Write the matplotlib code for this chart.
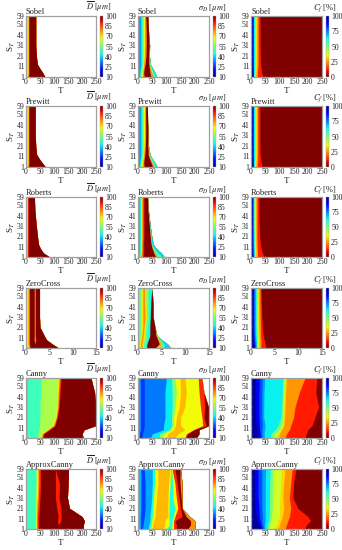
import numpy as np
import matplotlib
matplotlib.use("Agg")
import matplotlib.pyplot as plt
from matplotlib.cm import ScalarMappable
from matplotlib.colors import Normalize

plt.rcParams['font.family'] = ['Liberation Serif', 'DejaVu Serif']
plt.rcParams['mathtext.fontset'] = 'stix'

# rows of S_T at which the band edges were read
S_ROWS = [1, 5, 9, 13, 21, 31, 45, 59]
S_TICKS = [1, 11, 21, 31, 41, 51, 59]
T_TICKS = [0, 50, 100, 150, 200, 250]
ZC_TICKS = [0, 5, 10, 15]
D_TICKS = [10, 25, 40, 55, 70, 85, 100]
CF_TICKS = [0, 25, 50, 75, 100]
NAMES = ["Sobel", "Prewitt", "Roberts", "ZeroCross", "Canny", "ApproxCanny"]

# each band: value, and per S row the T where it starts; last column is where the data ends
sobel_d_vals = [58, 66, 78, 89, 100]
sobel_d = [[0, 3, 6, 8, 10, 68], [0, 4, 7, 9, 11, 60], [0, 4, 7, 9, 11, 50], [0, 4, 7, 9, 11, 41],
           [0, 4, 7, 9, 11, 37], [0, 4, 7, 9, 11, 35], [0, 4, 7, 9, 11, 35], [0, 4, 7, 9, 11, 35]]
prewitt_d_vals = [58, 66, 78, 89, 100]
prewitt_d = [[0, 3, 6, 8, 10, 70], [0, 4, 7, 9, 11, 58], [0, 4, 7, 9, 11, 47], [0, 4, 7, 9, 11, 38],
             [0, 4, 7, 9, 11, 35], [0, 4, 7, 9, 11, 33], [0, 4, 7, 9, 11, 33], [0, 4, 7, 9, 11, 33]]
roberts_d_vals = [62, 70, 80, 89, 100]
roberts_d = [[0, 2, 4, 6, 8, 85], [0, 2, 4, 6, 8, 62], [0, 2, 4, 6, 8, 52], [0, 2, 4, 6, 8, 45],
             [0, 3, 5, 6, 8, 41], [0, 3, 5, 6, 8, 37], [0, 3, 5, 6, 8, 32], [0, 3, 5, 6, 8, 30]]
zerocross_d_vals = [68, 78, 100, 80, 100]
zerocross_d = [[0, 0.5, 0.9, 2.0, 2.0, 7.0], [0, 0.4, 0.7, 2.0, 2.0, 5.6], [0, 0.4, 0.7, 1.7, 2.1, 4.4],
               [0, 0.4, 0.7, 1.75, 2.0, 3.9], [0, 0.4, 0.7, 1.75, 2.0, 3.0], [0, 0.4, 0.7, 1.75, 2.0, 2.9],
               [0, 0.4, 0.7, 1.75, 2.0, 2.9], [0, 0.4, 0.7, 1.75, 2.0, 2.9]]
canny_d_vals = [43, 48, 60, 70, 80, 89, 100]
canny_d = [[0, 5, 42, 52, 55, 58, 62, 205], [0, 5, 42, 56, 58, 60, 64, 200], [0, 5, 46, 75, 78, 82, 85, 208],
           [0, 5, 48, 95, 98, 101, 104, 250], [0, 5, 50, 105, 108, 110, 112, 248], [0, 5, 50, 110, 113, 116, 118, 250],
           [0, 5, 52, 112, 115, 118, 122, 245], [0, 5, 55, 115, 118, 122, 125, 232]]
approx_d_vals = [48, 58, 68, 78, 89, 100, 89, 100]
approx_d = [[0, 33, 36, 38, 40, 45, 120, 120, 205], [0, 33, 36, 38, 40, 45, 115, 115, 205],
            [0, 33, 36, 38, 40, 45, 112, 125, 208], [0, 33, 36, 38, 40, 46, 115, 125, 200],
            [0, 33, 36, 38, 42, 48, 110, 125, 155], [0, 33, 36, 40, 44, 50, 105, 118, 148],
            [0, 35, 38, 42, 46, 52, 105, 120, 150], [0, 35, 38, 42, 46, 52, 105, 105, 152]]

sobel_s_vals = [36, 44, 55, 68, 78, 100, 78, 55, 42]
sobel_s = [[0, 5, 8, 11, 15, 22, 45, 55, 60, 66], [0, 6, 9, 13, 16, 20, 42, 48, 53, 60],
           [0, 8, 12, 15, 18, 22, 40, 44, 48, 52], [0, 10, 14, 18, 20, 25, 38, 40, 42, 44],
           [0, 10, 14, 19, 22, 28, 38, 39, 40, 40], [0, 10, 14, 19, 23, 29, 40, 40, 41, 41],
           [0, 10, 14, 19, 23, 29, 37, 37, 37, 37], [0, 10, 14, 19, 23, 27, 35, 35, 35, 35]]
prewitt_s_vals = [36, 44, 55, 68, 78, 100, 78, 55, 42]
prewitt_s = [[0, 5, 8, 11, 15, 22, 52, 58, 62, 68], [0, 6, 9, 13, 16, 20, 46, 50, 54, 60],
             [0, 8, 12, 15, 18, 22, 40, 43, 46, 50], [0, 10, 14, 18, 20, 24, 36, 38, 40, 42],
             [0, 10, 14, 19, 22, 26, 35, 36, 37, 37], [0, 10, 14, 19, 23, 27, 36, 36, 37, 37],
             [0, 10, 14, 19, 23, 27, 34, 34, 34, 34], [0, 10, 14, 19, 23, 27, 33, 33, 33, 33]]
roberts_s_vals = [36, 44, 68, 78, 89, 100, 78, 50, 40]
roberts_s = [[0, 3, 7, 10, 14, 20, 62, 68, 85, 92], [0, 3, 8, 11, 15, 20, 55, 60, 70, 82],
             [0, 4, 9, 12, 16, 20, 50, 52, 58, 65], [0, 4, 9, 12, 16, 20, 46, 48, 50, 54],
             [0, 4, 10, 13, 17, 21, 43, 44, 46, 48], [0, 4, 10, 13, 17, 21, 40, 41, 42, 43],
             [0, 4, 10, 13, 17, 21, 36, 36, 37, 37], [0, 4, 10, 13, 17, 21, 33, 33, 34, 34]]
zerocross_s_vals = [44, 52, 70, 78, 70, 52, 44, 100, 75, 50, 40]
zerocross_s = [[0, .2, .4, .7, 1.0, 1.2, 1.5, 1.8, 3.6, 4.5, 5.5, 7.0], [0, .1, .3, .5, .8, 1.1, 1.5, 1.9, 4.5, 5.0, 5.5, 6.2],
               [0, .1, .4, .7, 1.0, 1.3, 1.8, 2.2, 4.2, 4.5, 4.8, 5.0], [0, .1, .5, .8, 1.1, 1.4, 1.8, 2.5, 3.8, 3.9, 4.0, 4.0],
               [0, .1, .6, 1.0, 1.3, 1.6, 2.0, 2.5, 3.6, 3.6, 3.6, 3.6], [0, .1, .6, 1.0, 1.5, 1.8, 2.2, 2.6, 3.2, 3.2, 3.2, 3.2],
               [0, .1, .6, 1.0, 1.4, 1.7, 2.2, 2.7, 3.2, 3.2, 3.2, 3.2], [0, .1, .6, 1.0, 1.4, 1.7, 2.2, 2.9, 2.9, 2.9, 2.9, 2.9]]
canny_s_vals = [36, 26, 32, 42, 55, 68, 74, 68, 88, 100]
canny_s = [[0, 5, 15, 45, 75, 85, 100, 130, 165, 168, 205], [0, 5, 15, 50, 75, 90, 105, 140, 170, 175, 215],
           [0, 8, 20, 90, 110, 115, 125, 165, 195, 198, 215], [0, 8, 22, 90, 118, 125, 132, 150, 228, 240, 250],
           [0, 8, 22, 95, 118, 125, 135, 150, 225, 232, 250], [0, 8, 22, 95, 120, 130, 145, 165, 220, 235, 248],
           [0, 8, 22, 95, 120, 135, 150, 170, 215, 232, 232], [0, 8, 22, 100, 118, 130, 148, 165, 212, 225, 225]]
approx_s_vals = [38, 27, 36, 45, 68, 74, 68, 45, 68, 88, 100, 78]
approx_s = [[0, 8, 15, 35, 42, 50, 88, 100, 115, 125, 135, 175, 200], [0, 8, 18, 38, 46, 52, 95, 110, 120, 125, 135, 185, 202],
            [0, 8, 20, 42, 48, 55, 95, 110, 120, 125, 130, 185, 200], [0, 8, 22, 42, 50, 60, 105, 108, 125, 130, 155, 170, 182],
            [0, 10, 25, 45, 52, 62, 105, 110, 130, 140, 150, 155, 155], [0, 10, 25, 48, 55, 65, 105, 110, 122, 135, 145, 152, 155],
            [0, 10, 25, 50, 58, 70, 108, 113, 122, 130, 138, 148, 155], [0, 10, 22, 50, 58, 70, 112, 115, 118, 120, 130, 148, 150]]

cf_vals = [98, 90, 80, 72, 64, 50, 40, 32, 25, 12, 0]
sobel_c = [[0, 6, 8, 9, 11, 12, 14, 15, 17, 22, 42, 250], [0, 5, 7, 9, 11, 12, 14, 16, 18, 23, 38, 250],
           [0, 4, 7, 9, 11, 13, 15, 17, 19, 24, 36, 250], [0, 4, 6, 9, 11, 13, 15, 17, 20, 25, 34, 250],
           [0, 3, 6, 9, 11, 13, 15, 17, 20, 25, 33, 250], [0, 3, 6, 9, 11, 13, 15, 17, 20, 25, 32, 250],
           [0, 3, 6, 9, 11, 13, 15, 17, 20, 25, 32, 250], [0, 3, 6, 9, 11, 13, 15, 17, 20, 25, 32, 250]]
prewitt_c = [[0, 6, 8, 9, 11, 12, 14, 15, 17, 22, 40, 250], [0, 5, 7, 9, 11, 12, 14, 16, 18, 23, 36, 250],
             [0, 4, 7, 9, 11, 13, 15, 17, 19, 24, 34, 250], [0, 4, 6, 9, 11, 13, 15, 17, 20, 24, 32, 250],
             [0, 3, 6, 9, 11, 13, 15, 17, 20, 24, 31, 250], [0, 3, 6, 9, 11, 13, 15, 17, 20, 24, 31, 250],
             [0, 3, 6, 9, 11, 13, 15, 17, 20, 24, 31, 250], [0, 3, 6, 9, 11, 13, 15, 17, 20, 24, 31, 250]]
roberts_c = [[0, 5, 7, 9, 10, 12, 14, 16, 18, 23, 45, 250], [0, 4, 6, 8, 10, 12, 14, 16, 18, 23, 40, 250],
             [0, 4, 6, 8, 10, 11, 13, 15, 18, 22, 36, 250], [0, 3, 5, 8, 9, 11, 13, 15, 17, 22, 33, 250],
             [0, 3, 5, 7, 9, 11, 13, 15, 17, 21, 31, 250], [0, 3, 5, 7, 9, 10, 12, 14, 17, 21, 29, 250],
             [0, 3, 5, 7, 9, 10, 12, 14, 17, 21, 28, 250], [0, 3, 5, 7, 9, 10, 12, 14, 17, 21, 28, 250]]
zerocross_c = [[0, .6, .8, .95, 1.1, 1.2, 1.35, 1.5, 1.7, 2.1, 3.2, 15], [0, .5, .7, .9, 1.1, 1.2, 1.4, 1.55, 1.75, 2.1, 3.0, 15],
               [0, .4, .6, .8, 1.0, 1.2, 1.4, 1.55, 1.75, 2.1, 2.8, 15], [0, .35, .55, .75, .95, 1.15, 1.35, 1.5, 1.7, 2.0, 2.6, 15],
               [0, .3, .5, .7, .9, 1.1, 1.3, 1.45, 1.65, 2.0, 2.4, 15], [0, .3, .5, .7, .9, 1.1, 1.3, 1.45, 1.6, 1.95, 2.3, 15],
               [0, .3, .5, .7, .9, 1.1, 1.3, 1.45, 1.6, 1.9, 2.2, 15], [0, .3, .5, .7, .9, 1.1, 1.3, 1.45, 1.6, 1.9, 2.1, 15]]
canny_c = [[0, 25, 34, 40, 48, 68, 80, 88, 98, 120, 190, 250], [0, 22, 32, 38, 46, 70, 85, 92, 100, 125, 195, 250],
           [0, 20, 30, 38, 48, 85, 100, 104, 108, 135, 200, 250], [0, 18, 30, 40, 50, 95, 108, 112, 115, 140, 215, 250],
           [0, 15, 28, 38, 45, 105, 112, 115, 118, 150, 225, 250], [0, 14, 28, 38, 45, 108, 113, 116, 120, 155, 238, 250],
           [0, 14, 28, 38, 46, 110, 115, 118, 122, 170, 228, 250], [0, 15, 30, 40, 48, 112, 117, 121, 125, 190, 232, 250]]
approx_c = [[0, 35, 40, 45, 50, 56, 62, 80, 95, 120, 190, 250], [0, 28, 35, 42, 48, 58, 66, 90, 100, 125, 195, 250],
            [0, 22, 32, 40, 50, 62, 70, 95, 105, 130, 210, 250], [0, 18, 30, 40, 50, 64, 72, 100, 110, 135, 200, 250],
            [0, 15, 28, 38, 50, 65, 75, 100, 115, 140, 165, 250], [0, 12, 25, 38, 50, 65, 75, 102, 112, 135, 148, 250],
            [0, 12, 25, 38, 50, 66, 76, 105, 115, 140, 150, 250], [0, 12, 25, 38, 52, 68, 78, 108, 120, 145, 158, 250]]

panels = [
    [(sobel_d_vals, sobel_d), (sobel_s_vals, sobel_s), (cf_vals, sobel_c)],
    [(prewitt_d_vals, prewitt_d), (prewitt_s_vals, prewitt_s), (cf_vals, prewitt_c)],
    [(roberts_d_vals, roberts_d), (roberts_s_vals, roberts_s), (cf_vals, roberts_c)],
    [(zerocross_d_vals, zerocross_d), (zerocross_s_vals, zerocross_s), (cf_vals, zerocross_c)],
    [(canny_d_vals, canny_d), (canny_s_vals, canny_s), (cf_vals, canny_c)],
    [(approx_d_vals, approx_d), (approx_s_vals, approx_s), (cf_vals, approx_c)],
]

# pixel layout of the reference
W, H = 342, 550
col_x = [(26, 96, 100, 103), (138, 209, 212.5, 216), (251, 322, 325.5, 329)]
row_y = [(16, 77), (106, 167), (197, 257), (288, 348), (378, 438), (469, 529)]
label_right = [112, 226, 337]
col_label = [r"$\overline{D}$ [$\mu m$]", r"$\sigma_D$ [$\mu m$]", r"$C_f$ [%]"]
GRAY = "#a0a0a0"
TXT = "#222222"
FS = 5.6

norm_d = Normalize(10, 100)
norm_c = Normalize(0, 100)


def box(x0, x1, y0, y1):
    return [x0 / W, 1 - y1 / H, (x1 - x0) / W, (y1 - y0) / H]


fig = plt.figure(figsize=(W / 100, H / 100), dpi=100)

for r, (y0, y1) in enumerate(row_y):
    xticks = ZC_TICKS if NAMES[r] == "ZeroCross" else T_TICKS
    for c, (x0, x1, cx0, cx1) in enumerate(col_x):
        ax = fig.add_axes(box(x0, x1, y0, y1))
        vals, edges = panels[r][c]
        edges = np.array(edges, dtype=float)
        cmap = plt.get_cmap("jet_r") if c == 2 else plt.get_cmap("jet")
        norm = norm_c if c == 2 else norm_d
        # paint left to right, every band runs to the end of the data so no seams show
        for i, v in enumerate(vals):
            ax.fill_betweenx(S_ROWS, edges[:, i], edges[:, -1], color=cmap(norm(v)), lw=0)
        ax.set_xlim(xticks[0], xticks[-1])
        ax.set_ylim(1, 59)
        ax.set_xticks(xticks)
        ax.set_yticks(S_TICKS)
        ax.tick_params(labelsize=FS, length=1, width=0.4, direction="in", color=GRAY,
                       labelcolor=TXT, pad=1)
        for sp in ax.spines.values():
            sp.set_color(GRAY)
            sp.set_linewidth(0.9)
        ax.set_xlabel("T", fontsize=6.5, color=TXT, labelpad=0.5)
        ax.set_ylabel("S$_T$", fontsize=6.5, color=TXT, labelpad=0)
        ax.set_title(NAMES[r], loc="left", fontsize=6, color=TXT, pad=1.5)

        cax = fig.add_axes(box(cx0, cx1, y0, y1))
        cb = fig.colorbar(ScalarMappable(norm=norm, cmap=cmap), cax=cax)
        cb.set_ticks(CF_TICKS if c == 2 else D_TICKS)
        cb.ax.tick_params(labelsize=FS, length=0, pad=1.5, labelcolor=TXT)
        cb.outline.set_linewidth(0.3)
        cb.outline.set_edgecolor(GRAY)
        fig.text(label_right[c] / W, 1 - (y0 - 1.5) / H, col_label[c], fontsize=6,
                 ha="right", va="bottom", color=TXT)

fig.savefig("out.png", dpi=100)
